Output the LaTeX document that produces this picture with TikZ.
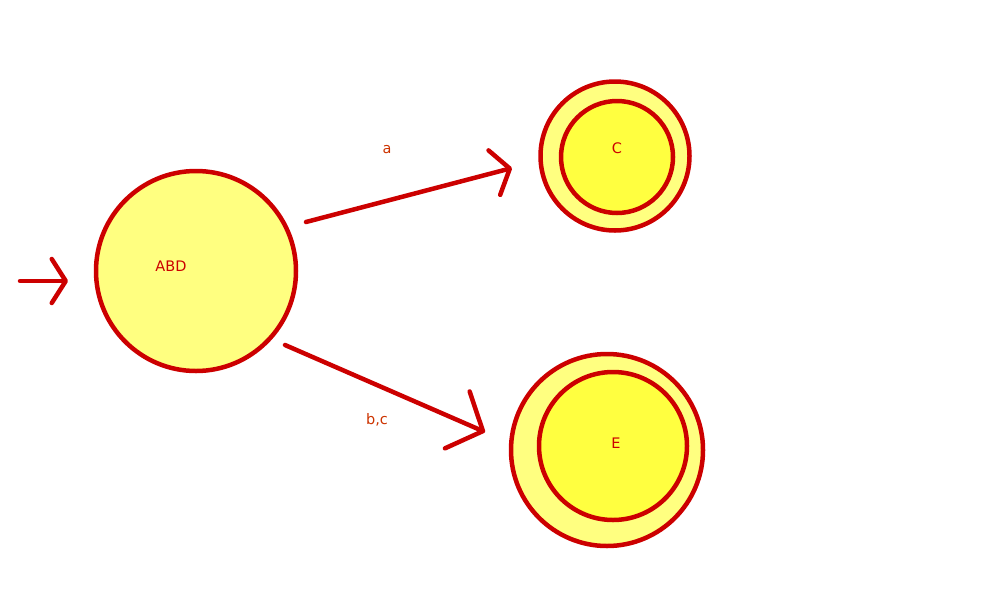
\documentclass[tikz,border=0pt]{standalone}
\usepackage{fontspec}
\setmainfont{DejaVu Sans}
\usetikzlibrary{arrows.meta}
\definecolor{stroke}{HTML}{CC0000}
\definecolor{lightfill}{HTML}{FFFF80}
\definecolor{innerfill}{HTML}{FFFF40}
\definecolor{labelcol}{HTML}{CC3300}
\tikzset{
  state/.style={circle, draw=stroke, line width=4.5pt, fill=lightfill, inner sep=0pt},
  innerstate/.style={circle, draw=stroke, line width=4.5pt, fill=innerfill, inner sep=0pt},
  statetext/.style={text=stroke, font=\fontsize{14.5}{16}\selectfont, inner sep=0pt},
  edgetext/.style={text=labelcol, font=\fontsize{14.5}{16}\selectfont, inner sep=0pt},
  edge/.style={draw=stroke, line width=4.5pt, line cap=round, line join=round},
}
\begin{document}
\begin{tikzpicture}[x=1pt, y=-1pt]
\useasboundingbox (0,0) rectangle (1000,600);
% states
\node[state, minimum size=200pt] (abd) at (196,271) {};
\node[statetext] (abdt) at (171,266) {ABD};
\node[state, minimum size=149pt] (cout) at (615,156) {};
\node[innerstate, minimum size=112pt] (cin) at (617,157) {};
\node[statetext] (ct) at (617,148) {C};
\node[state, minimum size=192pt] (eout) at (607,450) {};
\node[innerstate, minimum size=148pt] (ein) at (613,446) {};
\node[statetext] (et) at (616,443) {E};
% connector ends
\coordinate (s0) at (20,281);
\coordinate (s1) at (68,281);
\coordinate (a0) at (306,222);
\coordinate (a1) at (512,168);
\coordinate (b0) at (285,345);
\coordinate (b1) at (485,432);
% connectors
\draw[edge, -{Straight Barb[length=14pt, width=44pt, line width=4.5pt, round]}] (s0) -- (s1);
\draw[edge, -{Straight Barb[length=16pt, width=46pt, line width=4.5pt, round]}] (a0) -- (a1);
\draw[edge, -{Straight Barb[length=28pt, width=62pt, line width=4.5pt, round]}] (b0) -- (b1);
% labels
\node[edgetext] (la) at (387,150) {a};
\node[edgetext] (lbc) at (377,420) {b,c};
\end{tikzpicture}
\end{document}
